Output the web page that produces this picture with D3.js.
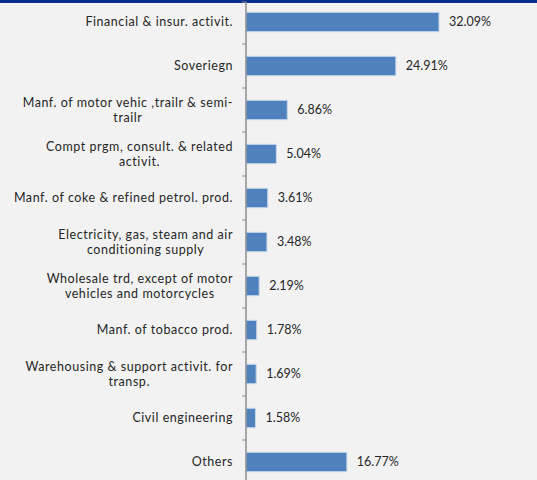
<!DOCTYPE html>
<html>
<head>
<meta charset="utf-8">
<script src="https://cdn.jsdelivr.net/npm/d3@7"></script>
<style>
  html, body { margin: 0; padding: 0; background: #f2f2f2; }
  svg { display: block; }
</style>
</head>
<body>
<div id="chart"></div>
<script>
// chart data (top to bottom)
const categories = [
    "Financial & insur. activit.",
    "Soveriegn",
    "Manf. of motor vehic ,trailr & semi-\ntrailr",
    "Compt prgm, consult. & related\nactivit.",
    "Manf. of coke & refined petrol. prod.",
    "Electricity, gas, steam and air\nconditioning supply",
    "Wholesale trd, except of motor\nvehicles and motorcycles",
    "Manf. of tobacco prod.",
    "Warehousing & support activit. for\ntransp.",
    "Civil engineering",
    "Others"
];
const shares = [32.09, 24.91, 6.86, 5.04, 3.61, 3.48, 2.19, 1.78, 1.69, 1.58, 16.77];

const data = categories.map((c, i) => ({cat: c, val: shares[i]}));

const width = 537;
const height = 480;
const margin = {top: 0, left: 246};
const labelRight = 233;

const svg = d3.select("#chart").append("svg")
    .attr("width", width)
    .attr("height", height);

svg.append("rect")
    .attr("width", width)
    .attr("height", height)
    .attr("fill", "#f2f2f2");

// cut off title strip at the very top
svg.append("rect")
    .attr("width", width)
    .attr("height", 3)
    .attr("fill", "#0b2f8e");

const xScale = d3.scaleLinear()
    .domain([0, 32.09])
    .range([0, 193]);

const yScale = d3.scaleBand()
    .domain(categories)
    .range([0, 484])
    .paddingInner(0.56)
    .paddingOuter(0.28);

const g = svg.append("g")
    .attr("transform", `translate(${margin.left},${margin.top})`);

g.selectAll("rect.bar")
    .data(data)
    .enter().append("rect")
        .attr("class", "bar")
        .attr("x", 0)
        .attr("y", d => yScale(d.cat))
        .attr("width", d => xScale(d.val))
        .attr("height", yScale.bandwidth())
        .attr("fill", "#4f81bd")
        .attr("stroke", "#c6d6ea")
        .attr("stroke-width", 1);

// axis line + ticks between categories
const step = yScale.step();
const tickYs = d3.range(categories.length + 1).map(i => yScale(categories[0]) - yScale.paddingOuter() * step + i * step);

g.append("line")
    .attr("x1", 0).attr("x2", 0)
    .attr("y1", 2).attr("y2", height)
    .attr("stroke", "#8c8c8c")
    .attr("stroke-width", 1.5);

g.selectAll("line.tick")
    .data(tickYs)
    .enter().append("line")
        .attr("class", "tick")
        .attr("x1", -4).attr("x2", 0)
        .attr("y1", d => Math.max(d, 2)).attr("y2", d => Math.max(d, 2))
        .attr("stroke", "#8c8c8c")
        .attr("stroke-width", 1);

// value labels
g.selectAll("text.val")
    .data(data)
    .enter().append("text")
        .attr("class", "val")
        .attr("x", d => xScale(d.val) + 10)
        .attr("y", d => yScale(d.cat) + yScale.bandwidth() / 2)
        .attr("dy", "0.35em")
        .attr("font-family", "Lato, sans-serif")
        .attr("font-size", "12.5px")
        .attr("fill", "#262626")
        .text(d => d.val.toFixed(2) + "%");

// category labels, wrapped lines centered within a right aligned block
const catG = svg.append("g")
    .attr("font-family", "Lato, sans-serif")
    .attr("font-size", "12.5px")
    .attr("letter-spacing", "0.55px")
    .attr("fill", "#262626");
data.forEach(d => {
    const lines = d.cat.split("\n");
    const cy = yScale(d.cat) + yScale.bandwidth() / 2;
    const lineH = 15.2;
    const texts = lines.map((ln, i) => catG.append("text")
        .attr("class", "cat")
        .attr("y", cy + (i - (lines.length - 1) / 2) * lineH)
        .attr("dy", "0.35em")
        .text(ln));
    let maxW = 0;
    texts.forEach(t => { maxW = Math.max(maxW, t.node().getComputedTextLength()); });
    texts.forEach(t => t
        .attr("x", labelRight - maxW / 2)
        .attr("text-anchor", "middle"));
});
</script>
</body>
</html>
